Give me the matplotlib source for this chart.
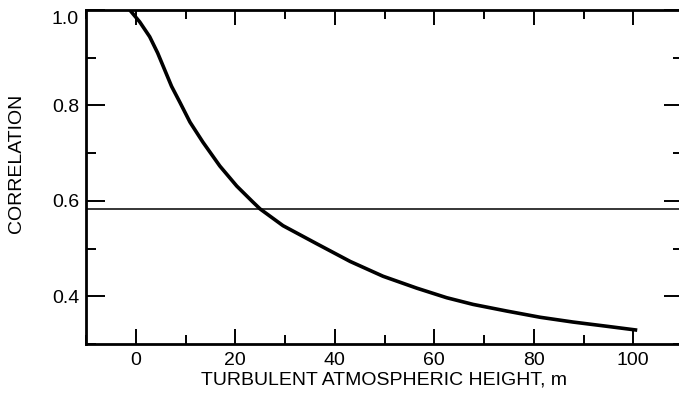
import matplotlib
matplotlib.use("Agg")
import matplotlib.pyplot as plt
import matplotlib.transforms as mtransforms
from matplotlib.ticker import MultipleLocator

plt.rcParams['font.family'] = ['Liberation Sans', 'DejaVu Sans']

height_m = [-1.2, 0.8, 2.8, 4.4, 5.8, 7.2, 8.9, 10.9, 13.5, 16.9, 20.3, 23.5, 25.0,
            29.6, 36.4, 43.1, 49.7, 56.5, 62.5, 67.8, 74.6, 81.3, 87.9, 94.8, 100.8]
correlation = [1.0, 0.975, 0.944, 0.910, 0.875, 0.840, 0.806, 0.765, 0.723, 0.673, 0.631, 0.598, 0.583,
               0.548, 0.510, 0.473, 0.442, 0.417, 0.397, 0.383, 0.369, 0.356, 0.346, 0.337, 0.329]
threshold = 0.583
xticks = [0, 20, 40, 60, 80, 100]
yticks = [0.4, 0.6, 0.8, 1.0]
xlabel = "TURBULENT ATMOSPHERIC HEIGHT, m"
ylabel = "CORRELATION"

W, H = 679, 403
fig = plt.figure(figsize=(W/100, H/100), dpi=100)
left, right, top, bottom = 86, 683, 10, 344
ax = fig.add_axes([left/W, 1-bottom/H, (right-left)/W, (bottom-top)/H])

ax.plot(height_m, correlation, color='black', lw=2.6, solid_joinstyle='round', solid_capstyle='butt')
ax.axhline(threshold, color='black', lw=1.1)

ax.set_xlim(-10, 110)
ax.set_ylim(0.3, 1.0)
ax.set_xticks(xticks)
ax.set_yticks(yticks)
ax.set_yticklabels([f"{v:.1f}" for v in yticks])
ax.xaxis.set_minor_locator(MultipleLocator(10))
ax.yaxis.set_minor_locator(MultipleLocator(0.1))
ax.tick_params(which='both', direction='in', top=True, right=True, width=1.4, labelsize=14, colors='black')
ax.tick_params(axis='x', which='major', length=11, pad=6)
ax.tick_params(axis='x', which='minor', length=6.5)
ax.tick_params(axis='y', which='major', length=13.5, pad=5)
ax.tick_params(axis='y', which='minor', length=7)
for s in ax.spines.values():
    s.set_linewidth(2.0)

# the top label "1.0" sits slightly below its tick in the original
fig.canvas.draw()
for lab in ax.get_yticklabels():
    if lab.get_text() == "1.0":
        lab.set_transform(lab.get_transform() + mtransforms.ScaledTranslation(0, -8/100, fig.dpi_scale_trans))

fig.text(384/W, 1-380/H, xlabel, ha='center', va='center', fontsize=14)
fig.text(17/W, 1-163/H, ylabel, ha='center', va='center', rotation=90, fontsize=14)

fig.savefig("out.png", dpi=100)
